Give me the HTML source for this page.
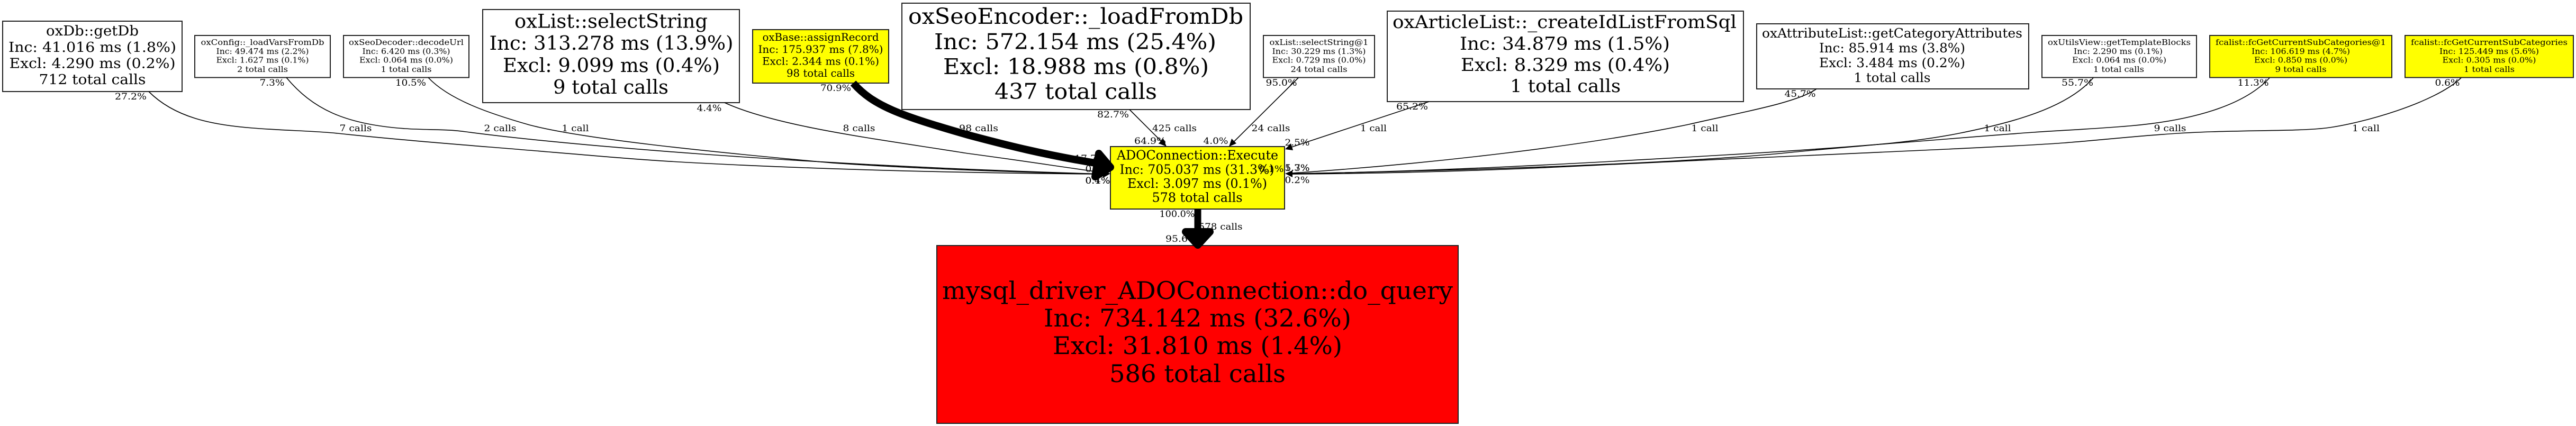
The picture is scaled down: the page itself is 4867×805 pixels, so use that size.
<!DOCTYPE html>
<html><head><meta charset="utf-8"><title>Call graph</title>
<style>
html,body{margin:0;padding:0;background:#fff}
svg{display:block}
text{font-family:"DejaVu Serif","Liberation Serif",serif;fill:#000;text-anchor:middle}
.l{font-size:17px}
.n{fill:#fff;stroke:#222;stroke-width:2}
.y{fill:#ff0}
.e{fill:none;stroke:#000;stroke-width:1.6}
</style></head><body>
<svg xmlns="http://www.w3.org/2000/svg" width="4867" height="805" viewBox="0 0 4867 805">
<rect width="4867" height="805" fill="#fff"/>

<!-- edge labels -->
<g class="l">
<text x="247" y="188" textLength="60" lengthAdjust="spacingAndGlyphs">27.2%</text>
<text x="514" y="162" textLength="47" lengthAdjust="spacingAndGlyphs">7.3%</text>
<text x="776" y="162" textLength="58" lengthAdjust="spacingAndGlyphs">10.5%</text>
<text x="1340" y="210" textLength="47" lengthAdjust="spacingAndGlyphs">4.4%</text>
<text x="1579" y="172" textLength="58" lengthAdjust="spacingAndGlyphs">70.9%</text>
<text x="2103" y="222" textLength="60" lengthAdjust="spacingAndGlyphs">82.7%</text>
<text x="2421" y="162" textLength="59" lengthAdjust="spacingAndGlyphs">95.0%</text>
<text x="2668" y="207" textLength="60" lengthAdjust="spacingAndGlyphs">65.2%</text>
<text x="3401" y="183" textLength="59" lengthAdjust="spacingAndGlyphs">45.7%</text>
<text x="3925" y="162" textLength="60" lengthAdjust="spacingAndGlyphs">55.7%</text>
<text x="4257" y="162" textLength="59" lengthAdjust="spacingAndGlyphs">11.3%</text>
<text x="4624" y="162" textLength="47" lengthAdjust="spacingAndGlyphs">0.6%</text>
<text x="2173" y="272" textLength="60" lengthAdjust="spacingAndGlyphs">64.9%</text>
<text x="2297" y="272" textLength="47" lengthAdjust="spacingAndGlyphs">4.0%</text>
<text x="2451" y="275" textLength="47" lengthAdjust="spacingAndGlyphs">2.5%</text>
<text x="2451" y="323" textLength="47" lengthAdjust="spacingAndGlyphs">5.3%</text>
<text x="2451" y="323" textLength="47" lengthAdjust="spacingAndGlyphs">1.7%</text>
<text x="2451" y="346" textLength="47" lengthAdjust="spacingAndGlyphs">0.2%</text>
<text x="2060" y="305" textLength="60" lengthAdjust="spacingAndGlyphs">17.7%</text>
<text x="2074" y="325" textLength="47" lengthAdjust="spacingAndGlyphs">0.5%</text>
<text x="2074" y="347" textLength="47" lengthAdjust="spacingAndGlyphs">0.1%</text>
<text x="2074" y="347" textLength="47" lengthAdjust="spacingAndGlyphs">0.4%</text>
<text x="2224" y="410" textLength="67" lengthAdjust="spacingAndGlyphs">100.0%</text>
<text x="2232" y="457" textLength="60" lengthAdjust="spacingAndGlyphs">95.6%</text>

<text x="672" y="248" textLength="61" lengthAdjust="spacingAndGlyphs">7 calls</text>
<text x="945" y="248" textLength="61" lengthAdjust="spacingAndGlyphs">2 calls</text>
<text x="1087" y="248" textLength="51" lengthAdjust="spacingAndGlyphs">1 call</text>
<text x="1623" y="248" textLength="61" lengthAdjust="spacingAndGlyphs">8 calls</text>
<text x="1849" y="248" textLength="74" lengthAdjust="spacingAndGlyphs">98 calls</text>
<text x="2219" y="248" textLength="84" lengthAdjust="spacingAndGlyphs">425 calls</text>
<text x="2401" y="248" textLength="73" lengthAdjust="spacingAndGlyphs">24 calls</text>
<text x="2595" y="248" textLength="50" lengthAdjust="spacingAndGlyphs">1 call</text>
<text x="3221" y="248" textLength="51" lengthAdjust="spacingAndGlyphs">1 call</text>
<text x="3774" y="248" textLength="51" lengthAdjust="spacingAndGlyphs">1 call</text>
<text x="4100" y="248" textLength="61" lengthAdjust="spacingAndGlyphs">9 calls</text>
<text x="4470" y="248" textLength="52" lengthAdjust="spacingAndGlyphs">1 call</text>
<text x="2306" y="434" textLength="83" lengthAdjust="spacingAndGlyphs">578 calls</text>
</g>

<!-- nodes -->
<g>
<rect class="n" x="5" y="40" width="339" height="133"/>
<rect class="n" x="368" y="67" width="256" height="79.5"/>
<rect class="n" x="649" y="67" width="237" height="79.5"/>
<rect class="n" x="912" y="18" width="485" height="176"/>
<rect class="n y" x="1422" y="56" width="257" height="101"/>
<rect class="n" x="1704" y="6" width="658" height="201"/>
<rect class="n" x="2387" y="67" width="210" height="79.5"/>
<rect class="n" x="2621" y="21" width="673" height="171"/>
<rect class="n" x="3319" y="45" width="514" height="123"/>
<rect class="n" x="3858" y="67" width="292" height="79.5"/>
<rect class="n y" x="4175" y="67" width="344" height="79.5"/>
<rect class="n y" x="4544" y="67" width="318" height="79.5"/>
<rect class="n y" x="2098" y="277" width="329" height="118"/>
<rect class="n" style="fill:#f00" x="1770" y="464" width="985" height="336"/>
</g>

<!-- edges -->
<path class="e" d="M281,173 C330,222 400,236 478,242 C540,247 590,247 638,252 C760,265 880,274 1000,284 C1100,292 1200,302 1319,308 C1550,320 1800,327 2090,329"/>
<path class="e" d="M541,146.500 C590,205 650,235 765,243 C810,246 840,243.500 880,249 C1050,272 1500,312 2090,329"/>
<path class="e" d="M809,146.500 C850,190 930,216 1000,236 C1100,262 1320,285 1574,308 C1750,320 1950,326 2090,329"/>
<path class="e" d="M1369,194 C1470,240 1660,263 1829,290 C1920,302 2010,316 2090,327"/>
<path d="M2134,207 L2197,270" class="e"/>
<polygon points="2204,277 2189,271 2198,262"/>
<path d="M2453,147 L2329,270" class="e"/>
<polygon points="2322,277 2327,262 2336,271"/>
<path d="M2700,192 L2440,278" class="e"/>
<polygon points="2428,282 2439,271 2443,284"/>
<polygon points="2098,328 2084,323 2084,336"/>

<path class="e" d="M3432,168 C3395,195 3280,214 3191,235 C3000,275 2700,310 2442,327"/>
<path class="e" d="M3955,147 C3905,205 3800,232 3701,252 C3600,272 3500,276 3383,288 C3200,307 2800,322 2442,328"/>
<path class="e" d="M4288,147 C4240,200 4140,228 4023,238 C3960,243.400 3900,246 3842,250 C3700,260 3500,279 3255,293 C3000,308 2700,325 2442,328"/>
<path class="e" d="M4650,147 C4600,195 4460,234 4394,242 C4350,247.300 4270,246 4178,249 C4080,252 3990,263 3900,270 C3780,279 3300,298 3000,313 C2800,323 2600,328 2442,329"/>
<polygon points="2428,328 2442,322 2442,335"/>

<path d="M1612,157 C1650,200 1700,218 1829,255 C1900,274 1975,293 2075,309" fill="none" stroke="#000" stroke-width="14"/>
<polygon points="2076,290 2069,334 2098,316" fill="#000" stroke="#000" stroke-width="14" stroke-linejoin="round"/>
<path d="M2263,395 L2263,436" fill="none" stroke="#000" stroke-width="13"/>
<polygon points="2240,438 2286,438 2263,463" fill="#000" stroke="#000" stroke-width="14" stroke-linejoin="round"/>

<!-- node text -->
<g font-size="26">
<text x="174.500" y="67" textLength="175" lengthAdjust="spacingAndGlyphs">oxDb::getDb</text>
<text x="174.500" y="98" textLength="317" lengthAdjust="spacingAndGlyphs">Inc: 41.016 ms (1.8%)</text>
<text x="174.500" y="128.500" textLength="314" lengthAdjust="spacingAndGlyphs">Excl: 4.290 ms (0.2%)</text>
<text x="174.500" y="159" textLength="202" lengthAdjust="spacingAndGlyphs">712 total calls</text>
</g>
<g font-size="15">
<text x="496" y="85" textLength="233" lengthAdjust="spacingAndGlyphs">oxConfig::_loadVarsFromDb</text>
<text x="496" y="102" textLength="175" lengthAdjust="spacingAndGlyphs">Inc: 49.474 ms (2.2%)</text>
<text x="496" y="118.500" textLength="175" lengthAdjust="spacingAndGlyphs">Excl: 1.627 ms (0.1%)</text>
<text x="496" y="136" textLength="96" lengthAdjust="spacingAndGlyphs">2 total calls</text>
<text x="767.500" y="85" textLength="217" lengthAdjust="spacingAndGlyphs">oxSeoDecoder::decodeUrl</text>
<text x="767.500" y="102" textLength="166" lengthAdjust="spacingAndGlyphs">Inc: 6.420 ms (0.3%)</text>
<text x="767.500" y="118.500" textLength="177" lengthAdjust="spacingAndGlyphs">Excl: 0.064 ms (0.0%)</text>
<text x="767.500" y="136" textLength="96" lengthAdjust="spacingAndGlyphs">1 total calls</text>
<text x="2492" y="85" textLength="187" lengthAdjust="spacingAndGlyphs">oxList::selectString@1</text>
<text x="2492" y="102" textLength="177" lengthAdjust="spacingAndGlyphs">Inc: 30.229 ms (1.3%)</text>
<text x="2492" y="118.500" textLength="177" lengthAdjust="spacingAndGlyphs">Excl: 0.729 ms (0.0%)</text>
<text x="2492" y="136" textLength="107" lengthAdjust="spacingAndGlyphs">24 total calls</text>
<text x="4004" y="85" textLength="270" lengthAdjust="spacingAndGlyphs">oxUtilsView::getTemplateBlocks</text>
<text x="4002" y="102" textLength="168" lengthAdjust="spacingAndGlyphs">Inc: 2.290 ms (0.1%)</text>
<text x="4004" y="118.500" textLength="178" lengthAdjust="spacingAndGlyphs">Excl: 0.064 ms (0.0%)</text>
<text x="4003" y="136" textLength="96" lengthAdjust="spacingAndGlyphs">1 total calls</text>
<text x="4347" y="85" textLength="322" lengthAdjust="spacingAndGlyphs">fcalist::fcGetCurrentSubCategories@1</text>
<text x="4347" y="102" textLength="186" lengthAdjust="spacingAndGlyphs">Inc: 106.619 ms (4.7%)</text>
<text x="4347" y="118.500" textLength="176" lengthAdjust="spacingAndGlyphs">Excl: 0.850 ms (0.0%)</text>
<text x="4347" y="136" textLength="97" lengthAdjust="spacingAndGlyphs">9 total calls</text>
<text x="4703" y="85" textLength="296" lengthAdjust="spacingAndGlyphs">fcalist::fcGetCurrentSubCategories</text>
<text x="4703" y="102" textLength="188" lengthAdjust="spacingAndGlyphs">Inc: 125.449 ms (5.6%)</text>
<text x="4703" y="118.500" textLength="177" lengthAdjust="spacingAndGlyphs">Excl: 0.305 ms (0.0%)</text>
<text x="4703" y="136" textLength="96" lengthAdjust="spacingAndGlyphs">1 total calls</text>
</g>
<g font-size="36">
<text x="1154.500" y="52.700" textLength="365" lengthAdjust="spacingAndGlyphs">oxList::selectString</text>
<text x="1155" y="94" textLength="461" lengthAdjust="spacingAndGlyphs">Inc: 313.278 ms (13.9%)</text>
<text x="1155" y="136" textLength="410" lengthAdjust="spacingAndGlyphs">Excl: 9.099 ms (0.4%)</text>
<text x="1154" y="177" textLength="218" lengthAdjust="spacingAndGlyphs">9 total calls</text>
</g>
<g font-size="20">
<text x="1550.500" y="77" textLength="220" lengthAdjust="spacingAndGlyphs">oxBase::assignRecord</text>
<text x="1550.500" y="100" textLength="236" lengthAdjust="spacingAndGlyphs">Inc: 175.937 ms (7.8%)</text>
<text x="1550.500" y="122.700" textLength="221" lengthAdjust="spacingAndGlyphs">Excl: 2.344 ms (0.1%)</text>
<text x="1550.500" y="145" textLength="129" lengthAdjust="spacingAndGlyphs">98 total calls</text>
</g>
<g font-size="41">
<text x="2032.500" y="45" textLength="633" lengthAdjust="spacingAndGlyphs">oxSeoEncoder::_loadFromDb</text>
<text x="2031.500" y="93" textLength="533" lengthAdjust="spacingAndGlyphs">Inc: 572.154 ms (25.4%)</text>
<text x="2033" y="140" textLength="502" lengthAdjust="spacingAndGlyphs">Excl: 18.988 ms (0.8%)</text>
<text x="2032.500" y="187" textLength="307" lengthAdjust="spacingAndGlyphs">437 total calls</text>
</g>
<g font-size="34">
<text x="2956" y="53" textLength="650" lengthAdjust="spacingAndGlyphs">oxArticleList::_createIdListFromSql</text>
<text x="2956.500" y="94" textLength="397" lengthAdjust="spacingAndGlyphs">Inc: 34.879 ms (1.5%)</text>
<text x="2957.500" y="134" textLength="395" lengthAdjust="spacingAndGlyphs">Excl: 8.329 ms (0.4%)</text>
<text x="2957.500" y="174" textLength="209" lengthAdjust="spacingAndGlyphs">1 total calls</text>
</g>
<g font-size="24.500">
<text x="3575" y="71" textLength="492" lengthAdjust="spacingAndGlyphs">oxAttributeList::getCategoryAttributes</text>
<text x="3575" y="99" textLength="276" lengthAdjust="spacingAndGlyphs">Inc: 85.914 ms (3.8%)</text>
<text x="3575" y="127" textLength="276" lengthAdjust="spacingAndGlyphs">Excl: 3.484 ms (0.2%)</text>
<text x="3575" y="155" textLength="145" lengthAdjust="spacingAndGlyphs">1 total calls</text>
</g>
<g font-size="24">
<text x="2262.500" y="301.700" textLength="305" lengthAdjust="spacingAndGlyphs">ADOConnection::Execute</text>
<text x="2261.500" y="328.300" textLength="292" lengthAdjust="spacingAndGlyphs">Inc: 705.037 ms (31.3%)</text>
<text x="2262" y="355" textLength="264" lengthAdjust="spacingAndGlyphs">Excl: 3.097 ms (0.1%)</text>
<text x="2262" y="381.700" textLength="171" lengthAdjust="spacingAndGlyphs">578 total calls</text>
</g>
<text class="l" x="2402" y="325" textLength="47" lengthAdjust="spacingAndGlyphs">0.1%</text>
<g font-size="46">
<text x="2262.500" y="565" textLength="965" lengthAdjust="spacingAndGlyphs">mysql_driver_ADOConnection::do_query</text>
<text x="2262.500" y="617" textLength="581" lengthAdjust="spacingAndGlyphs">Inc: 734.142 ms (32.6%)</text>
<text x="2262.500" y="669" textLength="547" lengthAdjust="spacingAndGlyphs">Excl: 31.810 ms (1.4%)</text>
<text x="2262.500" y="722" textLength="333" lengthAdjust="spacingAndGlyphs">586 total calls</text>
</g>
</svg>
</body></html>
